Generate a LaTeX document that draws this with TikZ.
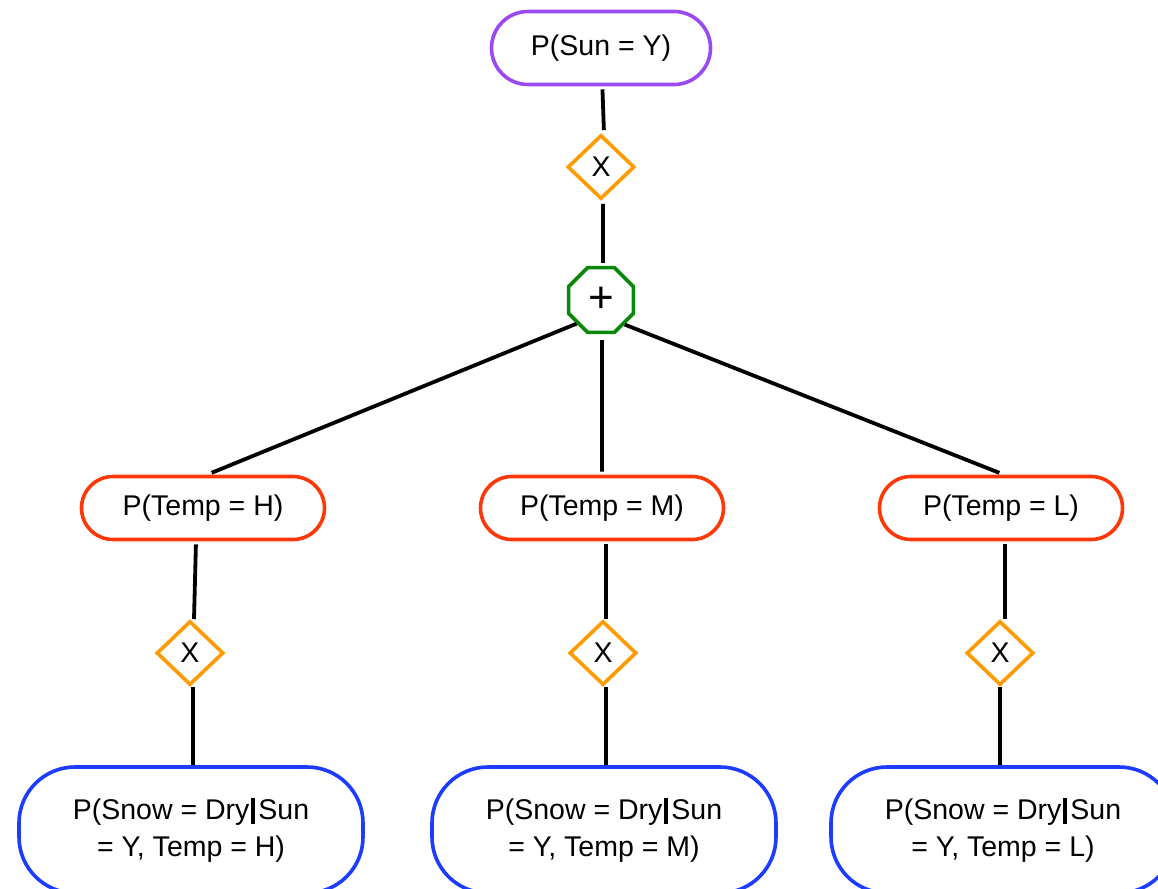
\documentclass[tikz,border=0pt]{standalone}
\usepackage{fontspec}
\setmainfont{Liberation Sans}
\usetikzlibrary{shapes.geometric}
\definecolor{sunpurple}{RGB}{155,72,245}
\definecolor{tempred}{RGB}{255,56,10}
\definecolor{snowblue}{RGB}{28,60,255}
\definecolor{oporange}{RGB}{255,154,0}
\definecolor{sumgreen}{RGB}{10,136,10}
% thick conditioning bar
\newcommand{\givenbar}{\hspace{2pt}\rule[-4.5pt]{4pt}{26pt}\hspace{3pt}}
\begin{document}
\begin{tikzpicture}[x=1pt,y=-1pt,
  txt/.style={font=\fontsize{28.5}{37}\selectfont, text=black},
  pill/.style={txt, draw, line width=3.6pt, fill=white, inner sep=0pt, align=center},
  sunbox/.style={pill, draw=sunpurple, minimum width=219pt, minimum height=73pt, rounded corners=36.5pt},
  tempbox/.style={pill, draw=tempred, minimum width=243pt, minimum height=63pt, rounded corners=31.5pt},
  snowbox/.style={pill, draw=snowblue, minimum width=344pt, minimum height=126pt, rounded corners=56pt},
  prodop/.style={txt, diamond, draw=oporange, line width=3.6pt, inner sep=0pt,
    minimum width=67pt, minimum height=64pt},
  sumop/.style={regular polygon, regular polygon sides=8, draw=sumgreen, line width=3.6pt,
    inner sep=0pt, minimum size=70pt, font=\fontsize{44}{44}\selectfont},
  conn/.style={draw=black, line width=3.8pt, shorten <=3pt, shorten >=3pt},
  connb/.style={draw=black, line width=3.8pt}]
\useasboundingbox (0,0) rectangle (1158,888);
\clip (0,0) rectangle (1158,888);

% root
\node[sunbox] (sun) at (601,48) {P(Sun = Y)};
\node[prodop] (x0) at (601,167) {X};
\node[sumop] (plus) at (601,300) {+};

% temperature branches
\node[tempbox] (tH) at (203,508) {P(Temp = H)};
\node[tempbox] (tM) at (602,508) {P(Temp = M)};
\node[tempbox] (tL) at (1001,508) {P(Temp = L)};

\node[prodop] (xH) at (190,653) {X};
\node[prodop] (xM) at (603,653) {X};
\node[prodop] (xL) at (1000,653) {X};

% snow leaves
\node[snowbox] (sH) at (191,830) {P(Snow = Dry\givenbar Sun\\= Y, Temp = H)};
\node[snowbox] (sM) at (604,830) {P(Snow = Dry\givenbar Sun\\= Y, Temp = M)};
\node[snowbox] (sL) at (1003,830) {P(Snow = Dry\givenbar Sun\\= Y, Temp = L)};

% connectors
\draw[conn] (sun) -- ([xshift=3pt]x0.north);
\draw[conn] ([xshift=2pt]x0.south) -- ([xshift=2pt]plus.north);
\draw[conn, shorten <=0pt, shorten >=5pt] (plus.224) -- ([xshift=4pt]tH.north);
\draw[conn, shorten <=6pt] ([xshift=1pt]plus.south) -- (tM.north);
\draw[conn, shorten <=0pt, shorten >=5pt] (plus.314) -- ([xshift=3pt]tL.north);

\draw[conn, shorten >=0pt] ([xshift=-7pt]tH.south) -- ([xshift=4pt]xH.north);
\draw[conn, shorten >=0pt] ([xshift=4pt]tM.south) -- ([xshift=3pt]xM.north);
\draw[conn, shorten >=0pt] ([xshift=4pt]tL.south) -- ([xshift=5pt]xL.north);

\draw[connb] ([xshift=3pt]xH.south) -- ([xshift=3pt]xH.south |- sH.north);
\draw[connb] ([xshift=3pt]xM.south) -- ([xshift=3pt]xM.south |- sM.north);
\draw[connb] (xL.south) -- (xL.south |- sL.north);
\end{tikzpicture}
\end{document}
